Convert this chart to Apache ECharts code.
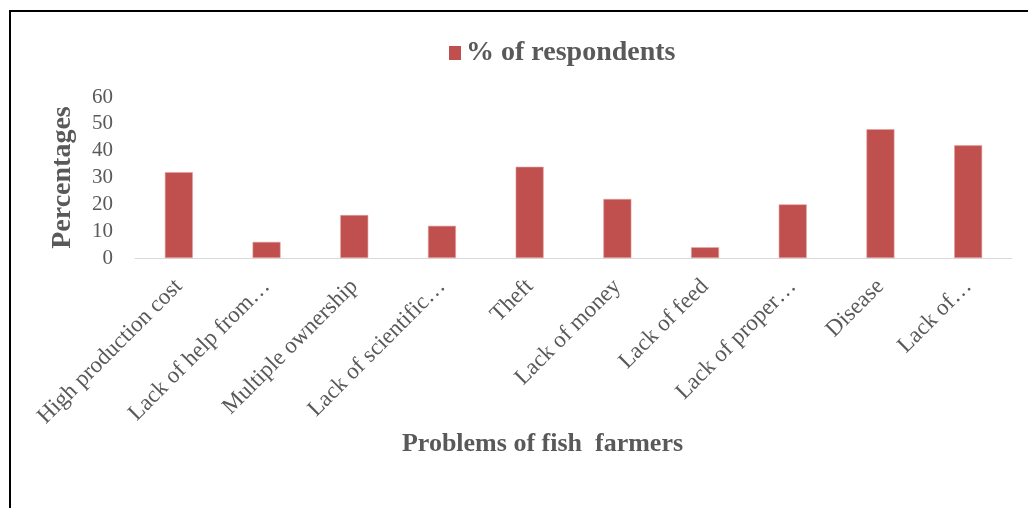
<!DOCTYPE html>
<html>
<head>
<meta charset="utf-8">
<script src="https://cdn.jsdelivr.net/npm/echarts@6/dist/echarts.min.js"></script>
<style>
  html, body { margin: 0; padding: 0; background: #fff; }
  #frame { position: absolute; left: 9px; top: 10px; width: 1040px; height: 520px; border-left: 2px solid #000; border-top: 2px solid #000; box-sizing: border-box; }
  #chart { position: absolute; left: 0; top: 0; width: 1028px; height: 508px; }
</style>
</head>
<body>
<div id="frame"></div>
<div id="chart"></div>
<script>
const categories = ["High production cost", "Lack of help from…", "Multiple ownership", "Lack of scientific…", "Theft", "Lack of money", "Lack of feed", "Lack of proper…", "Disease", "Lack of…"];
const respondents = [32, 6, 16, 12, 34, 22, 4, 20, 48, 42];
const seriesName = "% of respondents";
const yTicks = { min: 0, max: 60, interval: 10 };

const font = "'Liberation Serif', 'Times New Roman', serif";
const chart = echarts.init(document.getElementById('chart'), null, { renderer: 'canvas' });
chart.setOption({
  animation: false,
  backgroundColor: 'transparent',
  textStyle: { fontFamily: font },
  legend: {
    top: 34,
    left: 444,
    icon: 'rect',
    itemWidth: 12,
    itemHeight: 14,
    itemGap: 8,
    itemStyle: { borderWidth: 0 },
    textStyle: { fontFamily: font, fontSize: 28, fontWeight: 'bold', color: '#595959' },
    data: [seriesName]
  },
  grid: { left: 135, right: 16, top: 97, bottom: 250, containLabel: false },
  xAxis: {
    type: 'category',
    data: categories,
    axisLine: { show: true, lineStyle: { color: '#d9d9d9', width: 1 } },
    axisTick: { show: false },
    axisLabel: { rotate: 45, fontFamily: font, fontSize: 23, color: '#595959', margin: 25, interval: 0 },
    name: 'Problems of fish  farmers',
    nameLocation: 'middle',
    nameGap: 172,
    nameTextStyle: { fontFamily: font, fontSize: 26, fontWeight: 'bold', color: '#595959', padding: [0, 62, 0, 0] }
  },
  yAxis: {
    type: 'value',
    min: yTicks.min,
    max: yTicks.max,
    interval: yTicks.interval,
    axisLine: { show: false },
    axisTick: { show: false },
    splitLine: { show: false },
    axisLabel: { fontFamily: font, fontSize: 21, color: '#595959', margin: 22 },
    name: 'Percentages',
    nameLocation: 'middle',
    nameGap: 58,
    nameRotate: 90,
    nameTextStyle: { fontFamily: font, fontSize: 28, fontWeight: 'bold', color: '#595959' }
  },
  series: [{
    name: seriesName,
    type: 'bar',
    data: respondents,
    barWidth: 28,
    itemStyle: { color: '#c0504d', borderColor: '#e3a3a1', borderWidth: 0.6 }
  }]
});
</script>
</body>
</html>
